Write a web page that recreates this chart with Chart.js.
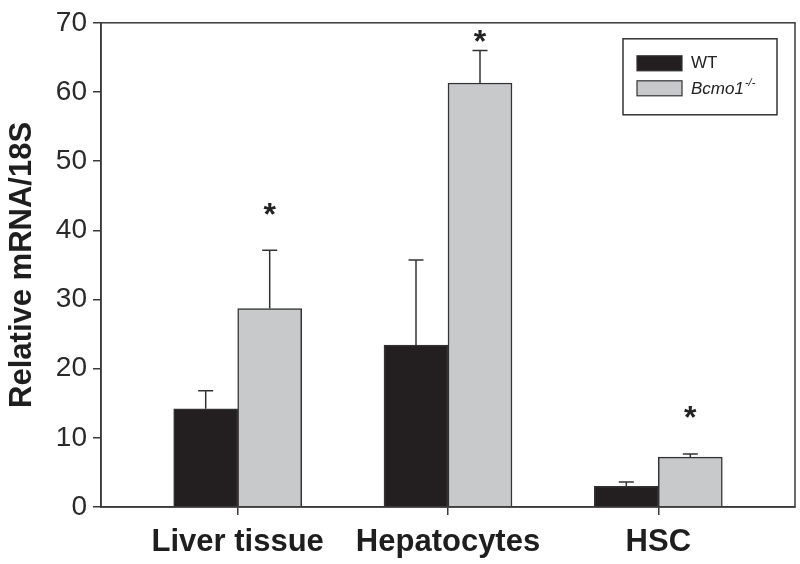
<!DOCTYPE html>
<html>
<head>
<meta charset="utf-8">
<script src="https://cdn.jsdelivr.net/npm/chart.js@4"></script>
<style>
  html, body { margin: 0; padding: 0; background: #fff; }
  #wrap { width: 800px; height: 564px; }
</style>
</head>
<body>
<div id="wrap"><canvas id="myChart" width="800" height="564"></canvas></div>
<script>
// groups on the x axis
var categories = ["Liver tissue", "Hepatocytes", "HSC"];
// mean values
var wtValues = [14.2, 23.4, 3.0];
var koValues = [28.7, 61.3, 7.2];
// top of the error bars (mean + SD)
var wtErrTop = [16.8, 35.7, 3.6];
var koErrTop = [37.1, 66.0, 7.65];
// where the significance stars sit (y units)
var starPos = [43.1, 68.1, 13.8];
var yTicks = [0, 10, 20, 30, 40, 50, 60, 70];

var FONT = "'Liberation Sans', Arial, Helvetica, sans-serif";
var ink = '#333333';

function points(vals) {
    return vals.map(function (v, i) { return { x: i + 1, y: v }; });
}

var errorBars = {
    id: 'errorBars',
    afterDatasetsDraw: function (chart) {
        var ctx = chart.ctx;
        var ys = chart.scales.y;
        var tops = [wtErrTop, koErrTop];
        ctx.save();
        ctx.strokeStyle = ink;
        ctx.lineWidth = 1.5;
        chart.data.datasets.forEach(function (ds, d) {
            var meta = chart.getDatasetMeta(d);
            meta.data.forEach(function (bar, i) {
                var yt = ys.getPixelForValue(tops[d][i]);
                ctx.beginPath();
                ctx.moveTo(bar.x, bar.y);
                ctx.lineTo(bar.x, yt);
                ctx.moveTo(bar.x - 7.5, yt);
                ctx.lineTo(bar.x + 7.5, yt);
                ctx.stroke();
            });
        });
        // stars above the knockout bars
        var meta2 = chart.getDatasetMeta(1);
        ctx.fillStyle = '#222';
        ctx.font = 'bold 32px ' + FONT;
        ctx.textAlign = 'center';
        ctx.textBaseline = 'alphabetic';
        var m = ctx.measureText('*');
        var off = (m.actualBoundingBoxAscent - m.actualBoundingBoxDescent) / 2;
        meta2.data.forEach(function (bar, i) {
            ctx.fillText('*', bar.x, ys.getPixelForValue(starPos[i]) + off);
        });
        ctx.restore();
    }
};

var frameAndLegend = {
    id: 'frameAndLegend',
    afterDraw: function (chart) {
        var ctx = chart.ctx;
        var a = chart.chartArea;
        ctx.save();
        ctx.strokeStyle = '#3a3a3a';
        ctx.lineWidth = 1.5;
        ctx.strokeRect(a.left, a.top, a.right - a.left, a.bottom - a.top);

        // legend box
        var bx = a.right - 172, by = a.top + 16, bw = 154, bh = 76;
        ctx.strokeStyle = ink;
        ctx.strokeRect(bx, by, bw, bh);
        var ds = chart.data.datasets;
        var rows = [by + 17, by + 42];
        ctx.textBaseline = 'middle';
        ctx.textAlign = 'left';
        ds.forEach(function (d, i) {
            ctx.fillStyle = d.backgroundColor;
            ctx.fillRect(bx + 14, rows[i], 45, 15);
            ctx.strokeStyle = ink;
            ctx.lineWidth = 1.2;
            ctx.strokeRect(bx + 14, rows[i], 45, 15);
            ctx.fillStyle = '#222';
            var ty = rows[i] + 8;
            if (i === 0) {
                ctx.font = '17px ' + FONT;
                ctx.fillText(d.label, bx + 68, ty);
            } else {
                ctx.font = 'italic 17px ' + FONT;
                ctx.fillText(d.label, bx + 68, ty);
                var w = ctx.measureText(d.label).width;
                ctx.font = 'italic 11px ' + FONT;
                ctx.fillText('-/-', bx + 68 + w + 1, ty - 6);
            }
        });
        ctx.restore();
    }
};

var ctx = document.getElementById("myChart");
var myChart = new Chart(ctx, {
    type: 'bar',
    data: {
        datasets: [{
            label: 'WT',
            data: points(wtValues),
            backgroundColor: '#231f20',
            borderColor: ink,
            borderWidth: 1.5
        }, {
            label: 'Bcmo1',
            data: points(koValues),
            backgroundColor: '#c8c9cb',
            borderColor: ink,
            borderWidth: 1.5
        }]
    },
    options: {
        responsive: false,
        animation: false,
        barThickness: 64,
        layout: { padding: { top: 20, right: 5, left: 0, bottom: 0 } },
        plugins: {
            legend: { display: false },
            tooltip: { enabled: false }
        },
        scales: {
            x: {
                type: 'linear',
                offset: false,
                min: 0.35,
                max: 3.65,
                afterBuildTicks: function (scale) {
                    scale.ticks = categories.map(function (c, i) { return { value: i + 1 }; });
                },
                afterFit: function (scale) { scale.height = 57; },
                grid: { offset: false, drawOnChartArea: false, drawTicks: true, tickLength: 8, color: '#3a3a3a', lineWidth: 1.5 },
                border: { display: true, color: '#3a3a3a', width: 1.5 },
                ticks: {
                    autoSkip: false,
                    maxRotation: 0,
                    padding: 9,
                    color: '#1e1e1e',
                    font: { family: FONT, size: 31, weight: 'bold' },
                    callback: function (v) { return categories[v - 1] || ''; }
                }
            },
            y: {
                min: 0,
                max: 70,
                afterBuildTicks: function (scale) {
                    scale.ticks = yTicks.map(function (v) { return { value: v }; });
                },
                afterFit: function (scale) { scale.width = 101; },
                grid: { drawOnChartArea: false, drawTicks: true, tickLength: 8, color: '#3a3a3a', lineWidth: 1.5 },
                border: { display: true, color: '#3a3a3a', width: 1.5 },
                ticks: {
                    padding: 6,
                    color: '#2a2a2a',
                    font: { family: FONT, size: 28 }
                },
                title: {
                    display: true,
                    text: 'Relative mRNA/18S',
                    color: '#1e1e1e',
                    padding: { top: 4, bottom: 0 },
                    font: { family: FONT, size: 31, weight: 'bold' }
                }
            }
        }
    },
    plugins: [errorBars, frameAndLegend]
});
</script>
</body>
</html>
